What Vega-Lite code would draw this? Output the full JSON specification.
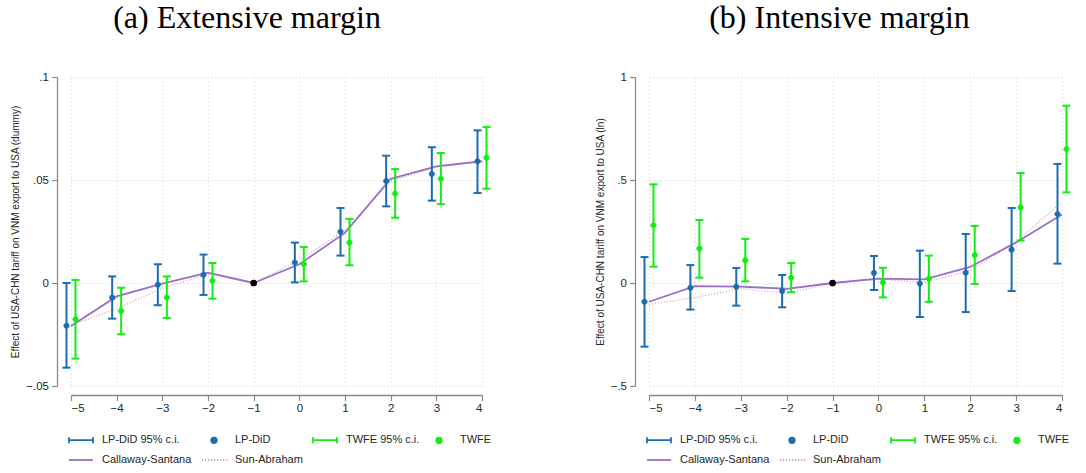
{
  "$schema": "https://vega.github.io/schema/vega-lite/v6.json",
  "padding": {"left": 10, "top": 2, "right": 0, "bottom": 0},
  "background": "white",
  "datasets": {
    "ext": [
      {"event": -5, "series": "LP-DiD", "est": -0.0207, "lo": -0.0411, "hi": 0.0000},
      {"event": -4, "series": "LP-DiD", "est": -0.0071, "lo": -0.0173, "hi": 0.0032},
      {"event": -3, "series": "LP-DiD", "est": -0.0008, "lo": -0.0108, "hi": 0.0091},
      {"event": -2, "series": "LP-DiD", "est": 0.0040, "lo": -0.0058, "hi": 0.0138},
      {"event": 0, "series": "LP-DiD", "est": 0.0100, "lo": 0.0003, "hi": 0.0196},
      {"event": 1, "series": "LP-DiD", "est": 0.0249, "lo": 0.0133, "hi": 0.0364},
      {"event": 2, "series": "LP-DiD", "est": 0.0495, "lo": 0.0372, "hi": 0.0618},
      {"event": 3, "series": "LP-DiD", "est": 0.0529, "lo": 0.0400, "hi": 0.0659},
      {"event": 4, "series": "LP-DiD", "est": 0.0591, "lo": 0.0437, "hi": 0.0741},
      {"event": -5, "series": "TWFE", "est": -0.0176, "lo": -0.0367, "hi": 0.0015},
      {"event": -4, "series": "TWFE", "est": -0.0136, "lo": -0.0249, "hi": -0.0023},
      {"event": -3, "series": "TWFE", "est": -0.0070, "lo": -0.0170, "hi": 0.0032},
      {"event": -2, "series": "TWFE", "est": 0.0011, "lo": -0.0076, "hi": 0.0097},
      {"event": 0, "series": "TWFE", "est": 0.0092, "lo": 0.0008, "hi": 0.0175},
      {"event": 1, "series": "TWFE", "est": 0.0197, "lo": 0.0086, "hi": 0.0311},
      {"event": 2, "series": "TWFE", "est": 0.0434, "lo": 0.0317, "hi": 0.0553},
      {"event": 3, "series": "TWFE", "est": 0.0506, "lo": 0.0383, "hi": 0.0631},
      {"event": 4, "series": "TWFE", "est": 0.0608, "lo": 0.0458, "hi": 0.0757},
      {"event": -5, "series": "Callaway-Santana", "est": -0.0209},
      {"event": -4, "series": "Callaway-Santana", "est": -0.0065},
      {"event": -3, "series": "Callaway-Santana", "est": -0.0003},
      {"event": -2, "series": "Callaway-Santana", "est": 0.0050},
      {"event": -1, "series": "Callaway-Santana", "est": 0.0},
      {"event": 0, "series": "Callaway-Santana", "est": 0.0091},
      {"event": 1, "series": "Callaway-Santana", "est": 0.0243},
      {"event": 2, "series": "Callaway-Santana", "est": 0.0506},
      {"event": 3, "series": "Callaway-Santana", "est": 0.0566},
      {"event": 4, "series": "Callaway-Santana", "est": 0.0591},
      {"event": -5, "series": "Sun-Abraham", "est": -0.0205},
      {"event": -4, "series": "Sun-Abraham", "est": -0.0125},
      {"event": -3, "series": "Sun-Abraham", "est": -0.0025},
      {"event": -2, "series": "Sun-Abraham", "est": 0.0042},
      {"event": -1, "series": "Sun-Abraham", "est": 0.0},
      {"event": 0, "series": "Sun-Abraham", "est": 0.0110},
      {"event": 1, "series": "Sun-Abraham", "est": 0.0255},
      {"event": 2, "series": "Sun-Abraham", "est": 0.0495},
      {"event": 3, "series": "Sun-Abraham", "est": 0.0562},
      {"event": 4, "series": "Sun-Abraham", "est": 0.0590}
    ],
    "int": [
      {"event": -5, "series": "LP-DiD", "est": -0.091, "lo": -0.309, "hi": 0.126},
      {"event": -4, "series": "LP-DiD", "est": -0.023, "lo": -0.129, "hi": 0.087},
      {"event": -3, "series": "LP-DiD", "est": -0.018, "lo": -0.110, "hi": 0.073},
      {"event": -2, "series": "LP-DiD", "est": -0.039, "lo": -0.118, "hi": 0.039},
      {"event": 0, "series": "LP-DiD", "est": 0.049, "lo": -0.034, "hi": 0.131},
      {"event": 1, "series": "LP-DiD", "est": -0.003, "lo": -0.165, "hi": 0.157},
      {"event": 2, "series": "LP-DiD", "est": 0.050, "lo": -0.141, "hi": 0.238},
      {"event": 3, "series": "LP-DiD", "est": 0.162, "lo": -0.039, "hi": 0.364},
      {"event": 4, "series": "LP-DiD", "est": 0.335, "lo": 0.094, "hi": 0.578},
      {"event": -5, "series": "TWFE", "est": 0.280, "lo": 0.079, "hi": 0.479},
      {"event": -4, "series": "TWFE", "est": 0.167, "lo": 0.026, "hi": 0.306},
      {"event": -3, "series": "TWFE", "est": 0.110, "lo": 0.008, "hi": 0.214},
      {"event": -2, "series": "TWFE", "est": 0.026, "lo": -0.045, "hi": 0.097},
      {"event": 0, "series": "TWFE", "est": 0.003, "lo": -0.070, "hi": 0.074},
      {"event": 1, "series": "TWFE", "est": 0.021, "lo": -0.091, "hi": 0.133},
      {"event": 2, "series": "TWFE", "est": 0.136, "lo": -0.005, "hi": 0.277},
      {"event": 3, "series": "TWFE", "est": 0.367, "lo": 0.206, "hi": 0.534},
      {"event": 4, "series": "TWFE", "est": 0.650, "lo": 0.440, "hi": 0.861},
      {"event": -5, "series": "Callaway-Santana", "est": -0.091},
      {"event": -4, "series": "Callaway-Santana", "est": -0.015},
      {"event": -3, "series": "Callaway-Santana", "est": -0.018},
      {"event": -2, "series": "Callaway-Santana", "est": -0.028},
      {"event": -1, "series": "Callaway-Santana", "est": 0.0},
      {"event": 0, "series": "Callaway-Santana", "est": 0.021},
      {"event": 1, "series": "Callaway-Santana", "est": 0.018},
      {"event": 2, "series": "Callaway-Santana", "est": 0.078},
      {"event": 3, "series": "Callaway-Santana", "est": 0.197},
      {"event": 4, "series": "Callaway-Santana", "est": 0.333},
      {"event": -5, "series": "Sun-Abraham", "est": -0.104},
      {"event": -4, "series": "Sun-Abraham", "est": -0.071},
      {"event": -3, "series": "Sun-Abraham", "est": -0.026},
      {"event": -2, "series": "Sun-Abraham", "est": -0.052},
      {"event": -1, "series": "Sun-Abraham", "est": 0.0},
      {"event": 0, "series": "Sun-Abraham", "est": 0.019},
      {"event": 1, "series": "Sun-Abraham", "est": 0.002},
      {"event": 2, "series": "Sun-Abraham", "est": 0.061},
      {"event": 3, "series": "Sun-Abraham", "est": 0.199},
      {"event": 4, "series": "Sun-Abraham", "est": 0.393}
    ]
  },
  "hconcat": [
    {
      "width": 411, "height": 309,
      "title": {"text": "(a) Extensive margin", "dx": -29.5},
      "data": {"name": "ext"},
      "encoding": {"x": {"field": "event", "type": "quantitative", "scale": {"domain": [-5, 4], "nice": false, "zero": false}, "axis": {"values": [-5,-4,-3,-2,-1,0,1,2,3,4], "format": "d", "title": null, "offset": 9, "grid": true}}},
      "layer": [
        {"data": {"values": [{}]}, "mark": {"type": "rule", "strokeDash": [5, 3], "color": "#6b6b6b", "strokeWidth": 1}, "encoding": {"x": {"datum": -1}}},
        {"transform": [{"filter": "datum.series == 'Sun-Abraham'"}], "mark": {"type": "line", "strokeWidth": 1.3, "strokeDash": [1, 2]},
         "encoding": {"y": {"field": "est", "type": "quantitative", "scale": {"domain": [-0.05, 0.1], "nice": false, "zero": false}, "axis": {"values": [-0.05, 0, 0.05, 0.1], "labelExpr": "datum.value == 0 ? '0' : replace(format(datum.value, ''), '0.', '.')", "title": "Effect of USA-CHN tariff on VNM export to USA (dummy)", "offset": 14, "grid": true}},
           "stroke": {"field": "series", "type": "nominal", "scale": {"domain": ["LP-DiD 95% c.i.", "LP-DiD", "TWFE 95% c.i.", "TWFE", "Callaway-Santana", "Sun-Abraham"], "range": ["#1b6db0", "#1b6db0", "#11ee11", "#11ee11", "#9b6fc6", "#c9a3aa"]}, "legend": {"title": null, "orient": "none", "legendX": -3, "legendY": 350, "direction": "horizontal", "columns": 4}}}},
        {"transform": [{"filter": "datum.series == 'Callaway-Santana'"}], "mark": {"type": "line", "strokeWidth": 1.8},
         "encoding": {"y": {"field": "est", "type": "quantitative"},
           "stroke": {"field": "series", "type": "nominal", "scale": {"domain": ["LP-DiD 95% c.i.", "LP-DiD", "TWFE 95% c.i.", "TWFE", "Callaway-Santana", "Sun-Abraham"], "range": ["#1b6db0", "#1b6db0", "#11ee11", "#11ee11", "#9b6fc6", "#c9a3aa"]}, "legend": {"title": null, "orient": "none", "legendX": -3, "legendY": 350, "direction": "horizontal", "columns": 4}}}},
        {"transform": [{"filter": "datum.series == 'LP-DiD'"}], "mark": {"type": "rule", "strokeWidth": 2, "xOffset": -4.5},
         "encoding": {"y": {"field": "lo", "type": "quantitative"}, "y2": {"field": "hi"},
           "stroke": {"field": "series", "type": "nominal", "scale": {"domain": ["LP-DiD 95% c.i.", "LP-DiD", "TWFE 95% c.i.", "TWFE", "Callaway-Santana", "Sun-Abraham"], "range": ["#1b6db0", "#1b6db0", "#11ee11", "#11ee11", "#9b6fc6", "#c9a3aa"]}, "legend": {"title": null, "orient": "none", "legendX": -3, "legendY": 350, "direction": "horizontal", "columns": 4}}}},
        {"transform": [{"filter": "datum.series == 'TWFE'"}], "mark": {"type": "rule", "strokeWidth": 2, "xOffset": 4.5},
         "encoding": {"y": {"field": "lo", "type": "quantitative"}, "y2": {"field": "hi"},
           "stroke": {"field": "series", "type": "nominal", "scale": {"domain": ["LP-DiD 95% c.i.", "LP-DiD", "TWFE 95% c.i.", "TWFE", "Callaway-Santana", "Sun-Abraham"], "range": ["#1b6db0", "#1b6db0", "#11ee11", "#11ee11", "#9b6fc6", "#c9a3aa"]}, "legend": {"title": null, "orient": "none", "legendX": -3, "legendY": 350, "direction": "horizontal", "columns": 4}}}},
        {"transform": [{"filter": "datum.series == 'LP-DiD'"}, {"fold": ["lo", "hi"]}], "mark": {"type": "tick", "orient": "horizontal", "size": 8, "thickness": 2, "opacity": 1, "xOffset": -4.5},
         "encoding": {"y": {"field": "value", "type": "quantitative"},
           "fill": {"field": "series", "type": "nominal", "scale": {"domain": ["LP-DiD 95% c.i.", "LP-DiD", "TWFE 95% c.i.", "TWFE", "Callaway-Santana", "Sun-Abraham"], "range": ["#1b6db0", "#1b6db0", "#11ee11", "#11ee11", "#9b6fc6", "#c9a3aa"]}, "legend": {"title": null, "orient": "none", "legendX": -3, "legendY": 350, "direction": "horizontal", "columns": 4}}}},
        {"transform": [{"filter": "datum.series == 'TWFE'"}, {"fold": ["lo", "hi"]}], "mark": {"type": "tick", "orient": "horizontal", "size": 8, "thickness": 2, "opacity": 1, "xOffset": 4.5},
         "encoding": {"y": {"field": "value", "type": "quantitative"},
           "fill": {"field": "series", "type": "nominal", "scale": {"domain": ["LP-DiD 95% c.i.", "LP-DiD", "TWFE 95% c.i.", "TWFE", "Callaway-Santana", "Sun-Abraham"], "range": ["#1b6db0", "#1b6db0", "#11ee11", "#11ee11", "#9b6fc6", "#c9a3aa"]}, "legend": {"title": null, "orient": "none", "legendX": -3, "legendY": 350, "direction": "horizontal", "columns": 4}}}},
        {"transform": [{"filter": "datum.series == 'LP-DiD'"}], "mark": {"type": "point", "filled": true, "opacity": 1, "size": 576, "strokeWidth": 0.5, "xOffset": -4.5},
         "encoding": {"y": {"field": "est", "type": "quantitative"},
           "fill": {"field": "series", "type": "nominal", "scale": {"domain": ["LP-DiD 95% c.i.", "LP-DiD", "TWFE 95% c.i.", "TWFE", "Callaway-Santana", "Sun-Abraham"], "range": ["#1b6db0", "#1b6db0", "#11ee11", "#11ee11", "#9b6fc6", "#c9a3aa"]}, "legend": {"title": null, "orient": "none", "legendX": -3, "legendY": 350, "direction": "horizontal", "columns": 4}},
           "stroke": {"field": "series", "type": "nominal", "scale": {"domain": ["LP-DiD 95% c.i.", "LP-DiD", "TWFE 95% c.i.", "TWFE", "Callaway-Santana", "Sun-Abraham"], "range": ["#1b6db0", "#1b6db0", "#11ee11", "#11ee11", "#9b6fc6", "#c9a3aa"]}, "legend": {"title": null, "orient": "none", "legendX": -3, "legendY": 350, "direction": "horizontal", "columns": 4}},
           "shape": {"field": "series", "type": "nominal", "scale": {"domain": ["LP-DiD 95% c.i.", "LP-DiD", "TWFE 95% c.i.", "TWFE", "Callaway-Santana", "Sun-Abraham"], "range": ["M-1,0H1M-1,-0.25V0.25M1,-0.25V0.25", "M-0.23,0A0.23,0.23,0,1,0,0.23,0A0.23,0.23,0,1,0,-0.23,0Z", "M-1,0H1M-1,-0.25V0.25M1,-0.25V0.25", "M-0.23,0A0.23,0.23,0,1,0,0.23,0A0.23,0.23,0,1,0,-0.23,0Z", "M-1,0H1", "M-1,0h0.1m0.15,0h0.1m0.15,0h0.1m0.15,0h0.1m0.15,0h0.1m0.15,0h0.1m0.15,0h0.1m0.15,0h0.1m0.15,0h0.1"]}, "legend": {"title": null, "orient": "none", "legendX": -3, "legendY": 350, "direction": "horizontal", "columns": 4}}}},
        {"transform": [{"filter": "datum.series == 'TWFE'"}], "mark": {"type": "point", "filled": true, "opacity": 1, "size": 576, "strokeWidth": 0.5, "xOffset": 4.5},
         "encoding": {"y": {"field": "est", "type": "quantitative"},
           "fill": {"field": "series", "type": "nominal", "scale": {"domain": ["LP-DiD 95% c.i.", "LP-DiD", "TWFE 95% c.i.", "TWFE", "Callaway-Santana", "Sun-Abraham"], "range": ["#1b6db0", "#1b6db0", "#11ee11", "#11ee11", "#9b6fc6", "#c9a3aa"]}, "legend": {"title": null, "orient": "none", "legendX": -3, "legendY": 350, "direction": "horizontal", "columns": 4}},
           "stroke": {"field": "series", "type": "nominal", "scale": {"domain": ["LP-DiD 95% c.i.", "LP-DiD", "TWFE 95% c.i.", "TWFE", "Callaway-Santana", "Sun-Abraham"], "range": ["#1b6db0", "#1b6db0", "#11ee11", "#11ee11", "#9b6fc6", "#c9a3aa"]}, "legend": {"title": null, "orient": "none", "legendX": -3, "legendY": 350, "direction": "horizontal", "columns": 4}},
           "shape": {"field": "series", "type": "nominal", "scale": {"domain": ["LP-DiD 95% c.i.", "LP-DiD", "TWFE 95% c.i.", "TWFE", "Callaway-Santana", "Sun-Abraham"], "range": ["M-1,0H1M-1,-0.25V0.25M1,-0.25V0.25", "M-0.23,0A0.23,0.23,0,1,0,0.23,0A0.23,0.23,0,1,0,-0.23,0Z", "M-1,0H1M-1,-0.25V0.25M1,-0.25V0.25", "M-0.23,0A0.23,0.23,0,1,0,0.23,0A0.23,0.23,0,1,0,-0.23,0Z", "M-1,0H1", "M-1,0h0.1m0.15,0h0.1m0.15,0h0.1m0.15,0h0.1m0.15,0h0.1m0.15,0h0.1m0.15,0h0.1m0.15,0h0.1m0.15,0h0.1"]}, "legend": {"title": null, "orient": "none", "legendX": -3, "legendY": 350, "direction": "horizontal", "columns": 4}}}},
        {"transform": [{"filter": "datum.series == 'Callaway-Santana' && datum.event == -1"}], "mark": {"type": "point", "filled": true, "color": "#000000", "opacity": 1, "size": 45},
         "encoding": {"y": {"field": "est", "type": "quantitative"}}}
      ]
    },
    {
      "width": 413, "height": 309,
      "title": {"text": "(b) Intensive margin", "dx": -16},
      "data": {"name": "int"},
      "encoding": {"x": {"field": "event", "type": "quantitative", "scale": {"domain": [-5, 4], "nice": false, "zero": false}, "axis": {"values": [-5,-4,-3,-2,-1,0,1,2,3,4], "format": "d", "title": null, "offset": 9, "grid": true}}},
      "layer": [
        {"data": {"values": [{}]}, "mark": {"type": "rule", "strokeDash": [5, 3], "color": "#6b6b6b", "strokeWidth": 1}, "encoding": {"x": {"datum": -1}}},
        {"transform": [{"filter": "datum.series == 'Sun-Abraham'"}], "mark": {"type": "line", "strokeWidth": 1.3, "strokeDash": [1, 2]},
         "encoding": {"y": {"field": "est", "type": "quantitative", "scale": {"domain": [-0.5, 1], "nice": false, "zero": false}, "axis": {"values": [-0.5, 0, 0.5, 1], "labelExpr": "datum.value == 0 ? '0' : replace(format(datum.value, ''), '0.', '.')", "title": "Effect of USA-CHN tariff on VNM export to USA (ln)", "offset": 14, "grid": true}},
           "stroke": {"field": "series", "type": "nominal", "scale": {"domain": ["LP-DiD 95% c.i.", "LP-DiD", "TWFE 95% c.i.", "TWFE", "Callaway-Santana", "Sun-Abraham"], "range": ["#1b6db0", "#1b6db0", "#11ee11", "#11ee11", "#9b6fc6", "#c9a3aa"]}, "legend": {"title": null, "orient": "none", "legendX": -3, "legendY": 350, "direction": "horizontal", "columns": 4}}}},
        {"transform": [{"filter": "datum.series == 'Callaway-Santana'"}], "mark": {"type": "line", "strokeWidth": 1.8},
         "encoding": {"y": {"field": "est", "type": "quantitative"},
           "stroke": {"field": "series", "type": "nominal", "scale": {"domain": ["LP-DiD 95% c.i.", "LP-DiD", "TWFE 95% c.i.", "TWFE", "Callaway-Santana", "Sun-Abraham"], "range": ["#1b6db0", "#1b6db0", "#11ee11", "#11ee11", "#9b6fc6", "#c9a3aa"]}, "legend": {"title": null, "orient": "none", "legendX": -3, "legendY": 350, "direction": "horizontal", "columns": 4}}}},
        {"transform": [{"filter": "datum.series == 'LP-DiD'"}], "mark": {"type": "rule", "strokeWidth": 2, "xOffset": -4.5},
         "encoding": {"y": {"field": "lo", "type": "quantitative"}, "y2": {"field": "hi"},
           "stroke": {"field": "series", "type": "nominal", "scale": {"domain": ["LP-DiD 95% c.i.", "LP-DiD", "TWFE 95% c.i.", "TWFE", "Callaway-Santana", "Sun-Abraham"], "range": ["#1b6db0", "#1b6db0", "#11ee11", "#11ee11", "#9b6fc6", "#c9a3aa"]}, "legend": {"title": null, "orient": "none", "legendX": -3, "legendY": 350, "direction": "horizontal", "columns": 4}}}},
        {"transform": [{"filter": "datum.series == 'TWFE'"}], "mark": {"type": "rule", "strokeWidth": 2, "xOffset": 4.5},
         "encoding": {"y": {"field": "lo", "type": "quantitative"}, "y2": {"field": "hi"},
           "stroke": {"field": "series", "type": "nominal", "scale": {"domain": ["LP-DiD 95% c.i.", "LP-DiD", "TWFE 95% c.i.", "TWFE", "Callaway-Santana", "Sun-Abraham"], "range": ["#1b6db0", "#1b6db0", "#11ee11", "#11ee11", "#9b6fc6", "#c9a3aa"]}, "legend": {"title": null, "orient": "none", "legendX": -3, "legendY": 350, "direction": "horizontal", "columns": 4}}}},
        {"transform": [{"filter": "datum.series == 'LP-DiD'"}, {"fold": ["lo", "hi"]}], "mark": {"type": "tick", "orient": "horizontal", "size": 8, "thickness": 2, "opacity": 1, "xOffset": -4.5},
         "encoding": {"y": {"field": "value", "type": "quantitative"},
           "fill": {"field": "series", "type": "nominal", "scale": {"domain": ["LP-DiD 95% c.i.", "LP-DiD", "TWFE 95% c.i.", "TWFE", "Callaway-Santana", "Sun-Abraham"], "range": ["#1b6db0", "#1b6db0", "#11ee11", "#11ee11", "#9b6fc6", "#c9a3aa"]}, "legend": {"title": null, "orient": "none", "legendX": -3, "legendY": 350, "direction": "horizontal", "columns": 4}}}},
        {"transform": [{"filter": "datum.series == 'TWFE'"}, {"fold": ["lo", "hi"]}], "mark": {"type": "tick", "orient": "horizontal", "size": 8, "thickness": 2, "opacity": 1, "xOffset": 4.5},
         "encoding": {"y": {"field": "value", "type": "quantitative"},
           "fill": {"field": "series", "type": "nominal", "scale": {"domain": ["LP-DiD 95% c.i.", "LP-DiD", "TWFE 95% c.i.", "TWFE", "Callaway-Santana", "Sun-Abraham"], "range": ["#1b6db0", "#1b6db0", "#11ee11", "#11ee11", "#9b6fc6", "#c9a3aa"]}, "legend": {"title": null, "orient": "none", "legendX": -3, "legendY": 350, "direction": "horizontal", "columns": 4}}}},
        {"transform": [{"filter": "datum.series == 'LP-DiD'"}], "mark": {"type": "point", "filled": true, "opacity": 1, "size": 576, "strokeWidth": 0.5, "xOffset": -4.5},
         "encoding": {"y": {"field": "est", "type": "quantitative"},
           "fill": {"field": "series", "type": "nominal", "scale": {"domain": ["LP-DiD 95% c.i.", "LP-DiD", "TWFE 95% c.i.", "TWFE", "Callaway-Santana", "Sun-Abraham"], "range": ["#1b6db0", "#1b6db0", "#11ee11", "#11ee11", "#9b6fc6", "#c9a3aa"]}, "legend": {"title": null, "orient": "none", "legendX": -3, "legendY": 350, "direction": "horizontal", "columns": 4}},
           "stroke": {"field": "series", "type": "nominal", "scale": {"domain": ["LP-DiD 95% c.i.", "LP-DiD", "TWFE 95% c.i.", "TWFE", "Callaway-Santana", "Sun-Abraham"], "range": ["#1b6db0", "#1b6db0", "#11ee11", "#11ee11", "#9b6fc6", "#c9a3aa"]}, "legend": {"title": null, "orient": "none", "legendX": -3, "legendY": 350, "direction": "horizontal", "columns": 4}},
           "shape": {"field": "series", "type": "nominal", "scale": {"domain": ["LP-DiD 95% c.i.", "LP-DiD", "TWFE 95% c.i.", "TWFE", "Callaway-Santana", "Sun-Abraham"], "range": ["M-1,0H1M-1,-0.25V0.25M1,-0.25V0.25", "M-0.23,0A0.23,0.23,0,1,0,0.23,0A0.23,0.23,0,1,0,-0.23,0Z", "M-1,0H1M-1,-0.25V0.25M1,-0.25V0.25", "M-0.23,0A0.23,0.23,0,1,0,0.23,0A0.23,0.23,0,1,0,-0.23,0Z", "M-1,0H1", "M-1,0h0.1m0.15,0h0.1m0.15,0h0.1m0.15,0h0.1m0.15,0h0.1m0.15,0h0.1m0.15,0h0.1m0.15,0h0.1m0.15,0h0.1"]}, "legend": {"title": null, "orient": "none", "legendX": -3, "legendY": 350, "direction": "horizontal", "columns": 4}}}},
        {"transform": [{"filter": "datum.series == 'TWFE'"}], "mark": {"type": "point", "filled": true, "opacity": 1, "size": 576, "strokeWidth": 0.5, "xOffset": 4.5},
         "encoding": {"y": {"field": "est", "type": "quantitative"},
           "fill": {"field": "series", "type": "nominal", "scale": {"domain": ["LP-DiD 95% c.i.", "LP-DiD", "TWFE 95% c.i.", "TWFE", "Callaway-Santana", "Sun-Abraham"], "range": ["#1b6db0", "#1b6db0", "#11ee11", "#11ee11", "#9b6fc6", "#c9a3aa"]}, "legend": {"title": null, "orient": "none", "legendX": -3, "legendY": 350, "direction": "horizontal", "columns": 4}},
           "stroke": {"field": "series", "type": "nominal", "scale": {"domain": ["LP-DiD 95% c.i.", "LP-DiD", "TWFE 95% c.i.", "TWFE", "Callaway-Santana", "Sun-Abraham"], "range": ["#1b6db0", "#1b6db0", "#11ee11", "#11ee11", "#9b6fc6", "#c9a3aa"]}, "legend": {"title": null, "orient": "none", "legendX": -3, "legendY": 350, "direction": "horizontal", "columns": 4}},
           "shape": {"field": "series", "type": "nominal", "scale": {"domain": ["LP-DiD 95% c.i.", "LP-DiD", "TWFE 95% c.i.", "TWFE", "Callaway-Santana", "Sun-Abraham"], "range": ["M-1,0H1M-1,-0.25V0.25M1,-0.25V0.25", "M-0.23,0A0.23,0.23,0,1,0,0.23,0A0.23,0.23,0,1,0,-0.23,0Z", "M-1,0H1M-1,-0.25V0.25M1,-0.25V0.25", "M-0.23,0A0.23,0.23,0,1,0,0.23,0A0.23,0.23,0,1,0,-0.23,0Z", "M-1,0H1", "M-1,0h0.1m0.15,0h0.1m0.15,0h0.1m0.15,0h0.1m0.15,0h0.1m0.15,0h0.1m0.15,0h0.1m0.15,0h0.1m0.15,0h0.1"]}, "legend": {"title": null, "orient": "none", "legendX": -3, "legendY": 350, "direction": "horizontal", "columns": 4}}}},
        {"transform": [{"filter": "datum.series == 'Callaway-Santana' && datum.event == -1"}], "mark": {"type": "point", "filled": true, "color": "#000000", "opacity": 1, "size": 45},
         "encoding": {"y": {"field": "est", "type": "quantitative"}}}
      ]
    }
  ],
  "spacing": 103,
  "resolve": {
    "scale": {"x": "independent", "y": "independent", "fill": "independent", "stroke": "independent", "shape": "independent"},
    "legend": {"fill": "independent", "stroke": "independent", "shape": "independent"}
  },
  "config": {
    "view": {"stroke": null},
    "title": {"font": "Liberation Serif", "fontSize": 32, "fontWeight": "normal", "color": "#000000", "anchor": "middle", "baseline": "alphabetic", "offset": 36},
    "axis": {"domainColor": "#8a8a8a", "domainWidth": 1.3, "tickColor": "#8a8a8a", "tickSize": 5.5, "tickWidth": 1.2, "labelFont": "Liberation Sans", "labelFontSize": 11.5, "labelColor": "#262626", "titleFont": "Liberation Sans", "titleFontSize": 10, "titleFontWeight": "normal", "titleColor": "#262626", "gridColor": "#cfcfcf", "gridDash": [1, 3], "gridWidth": 1, "labelPadding": 3},
    "axisX": {"labelPadding": 2},
    "axisY": {"titlePadding": 5},
    "legend": {"labelFont": "Liberation Sans", "labelFontSize": 11, "labelColor": "#262626", "labelOffset": 8, "columnPadding": 6, "rowPadding": -9, "symbolStrokeWidth": 1.8, "symbolSize": 576, "symbolOpacity": 1, "padding": 0, "gridAlign": "each"}
  }
}
